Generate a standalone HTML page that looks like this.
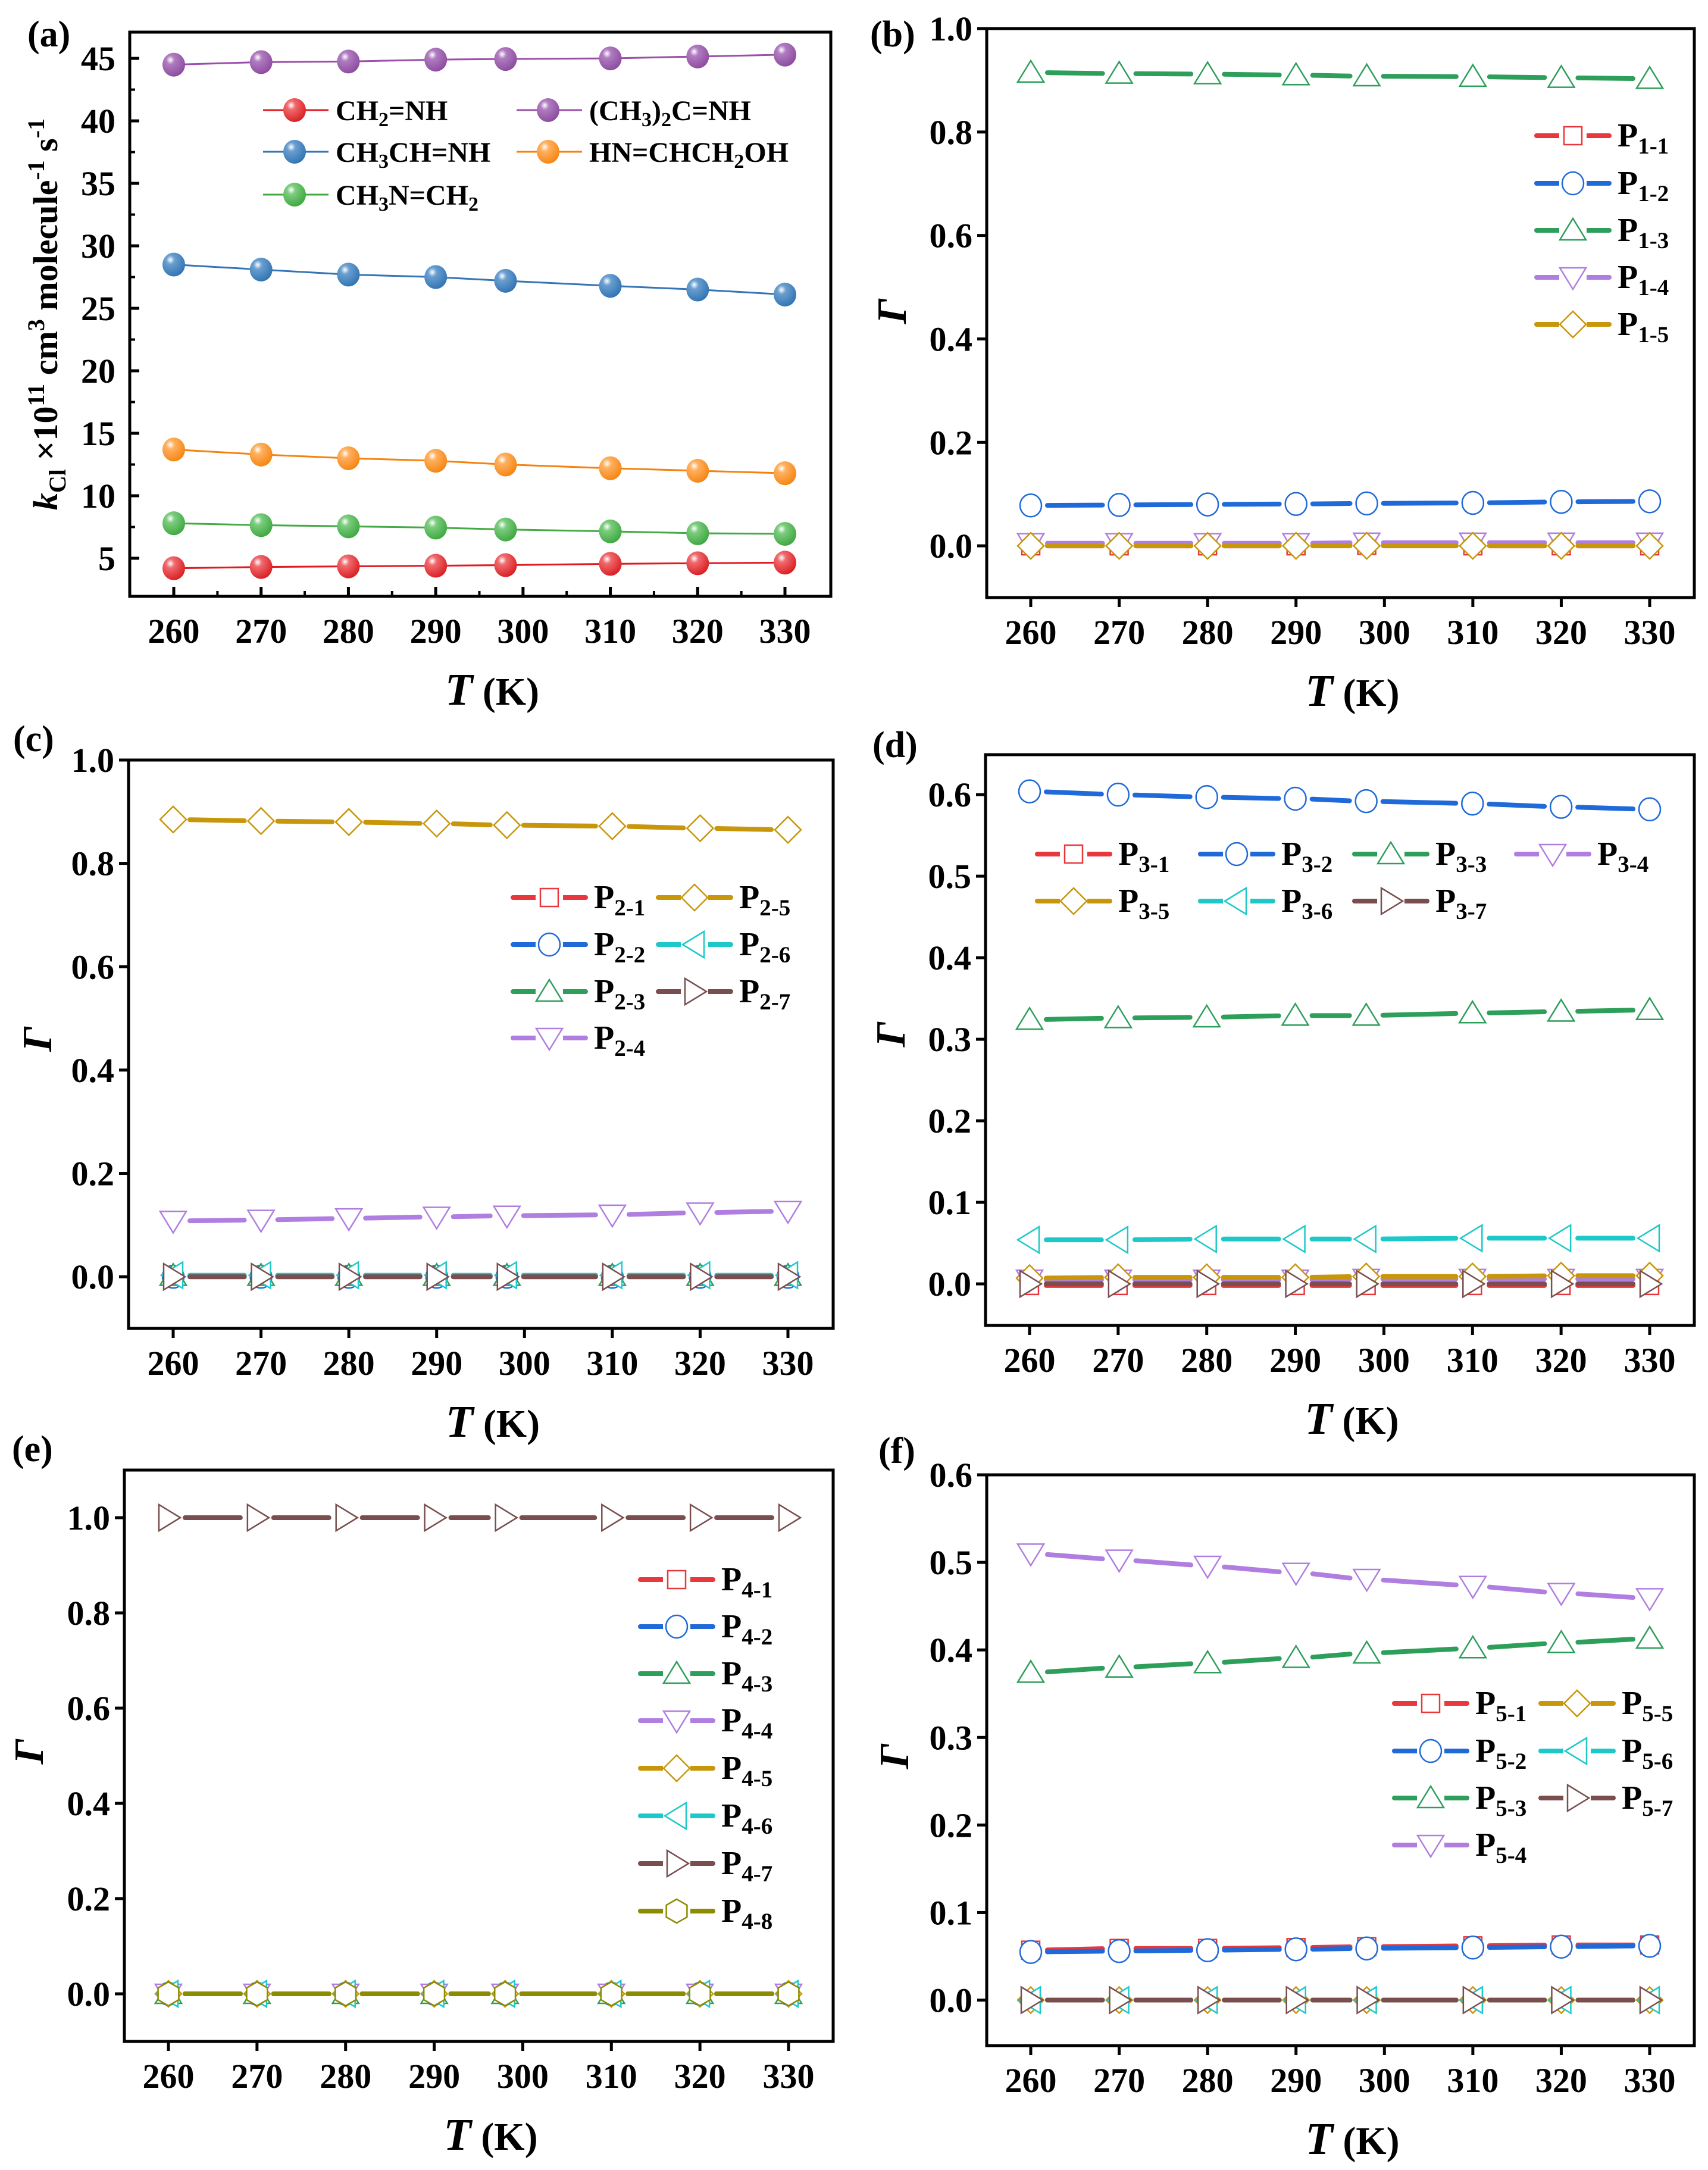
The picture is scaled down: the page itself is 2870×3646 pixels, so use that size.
<!DOCTYPE html>
<html><head><meta charset="utf-8">
<style>
html,body{margin:0;padding:0;background:#fff;}
svg{display:block;}
text{font-family:"Liberation Serif","Times New Roman",serif;font-weight:bold;fill:#000;}
</style></head>
<body>
<svg id="fig" xmlns="http://www.w3.org/2000/svg" width="2870" height="3646" viewBox="0 0 2870 3646">
<defs>
<radialGradient id="gr-red" cx="35%" cy="30%" r="75%"><stop offset="0" stop-color="#fff"/><stop offset="0.25" stop-color="#f06a6e"/><stop offset="1" stop-color="#d81c20"/></radialGradient>
<radialGradient id="gr-purple" cx="35%" cy="30%" r="75%"><stop offset="0" stop-color="#fff"/><stop offset="0.25" stop-color="#b07cc0"/><stop offset="1" stop-color="#8c4a9e"/></radialGradient>
<radialGradient id="gr-blue" cx="35%" cy="30%" r="75%"><stop offset="0" stop-color="#fff"/><stop offset="0.25" stop-color="#6a9fd0"/><stop offset="1" stop-color="#2f72b2"/></radialGradient>
<radialGradient id="gr-orange" cx="35%" cy="30%" r="75%"><stop offset="0" stop-color="#fff"/><stop offset="0.25" stop-color="#ffb060"/><stop offset="1" stop-color="#f58410"/></radialGradient>
<radialGradient id="gr-green" cx="35%" cy="30%" r="75%"><stop offset="0" stop-color="#fff"/><stop offset="0.25" stop-color="#7ccd7e"/><stop offset="1" stop-color="#3da63f"/></radialGradient>
</defs>
</svg>
<script>
// ---------- shared x data ----------
const temps = [260, 270, 280, 290, 298, 310, 320, 330];
const xTicks = [260, 270, 280, 290, 300, 310, 320, 330];

// ---------- panel (a) ----------
const aNames = ["CH2=NH", "(CH3)2C=NH", "CH3CH=NH", "HN=CHCH2OH", "CH3N=CH2"];
const aCH2NH = [4.2, 4.3, 4.35, 4.4, 4.45, 4.55, 4.6, 4.65];
const aMe2CNH = [44.5, 44.7, 44.75, 44.9, 44.95, 45.0, 45.15, 45.3];
const aCH3CHNH = [28.5, 28.1, 27.7, 27.5, 27.2, 26.8, 26.5, 26.1];
const aHNCHCH2OH = [13.7, 13.3, 13.0, 12.8, 12.5, 12.2, 12.0, 11.8];
const aCH3NCH2 = [7.8, 7.65, 7.55, 7.45, 7.3, 7.15, 7.0, 6.95];
const aYTicks = [5, 10, 15, 20, 25, 30, 35, 40, 45];

// ---------- panel (b) ----------
const bP11 = [0, 0, 0, 0, 0.001, 0, 0, 0];
const bP12 = [0.078, 0.079, 0.080, 0.081, 0.082, 0.083, 0.085, 0.086];
const bP13 = [0.915, 0.913, 0.912, 0.910, 0.908, 0.907, 0.905, 0.903];
const bP14 = [0.005, 0.005, 0.005, 0.005, 0.006, 0.006, 0.006, 0.006];
const bP15 = [0, 0, 0, 0, 0, 0, 0, 0];

// ---------- panel (c) ----------
const cP21 = [0, 0, 0, 0, 0, 0, 0, 0];
const cP22 = [0, 0, 0, 0, 0, 0, 0, 0];
const cP23 = [0.002, 0.002, 0.002, 0.002, 0.002, 0.002, 0.002, 0.002];
const cP24 = [0.108, 0.110, 0.113, 0.116, 0.118, 0.120, 0.124, 0.127];
const cP25 = [0.885, 0.882, 0.880, 0.877, 0.874, 0.872, 0.868, 0.865];
const cP26 = [0.003, 0.003, 0.003, 0.003, 0.003, 0.003, 0.003, 0.003];
const cP27 = [0, 0, 0, 0, 0, 0, 0, 0];

// ---------- panel (d) ----------
const dP31 = [-0.002, -0.002, -0.002, -0.002, -0.002, -0.002, -0.002, -0.002];
const dP32 = [0.604, 0.600, 0.597, 0.595, 0.592, 0.589, 0.585, 0.582];
const dP33 = [0.324, 0.326, 0.327, 0.329, 0.329, 0.332, 0.334, 0.336];
const dP34 = [0.005, 0.005, 0.005, 0.005, 0.006, 0.006, 0.006, 0.006];
const dP35 = [0.007, 0.008, 0.008, 0.008, 0.009, 0.009, 0.010, 0.010];
const dP36 = [0.054, 0.054, 0.055, 0.055, 0.055, 0.056, 0.056, 0.056];
const dP37 = [0, 0, 0, 0, 0, 0, 0, 0];

// ---------- panel (e) ----------
const eP41 = [0, 0, 0, 0, 0, 0, 0, 0];
const eP42 = [0, 0, 0, 0, 0, 0, 0, 0];
const eP43 = [0, 0, 0, 0, 0, 0, 0, 0];
const eP44 = [0, 0, 0, 0, 0, 0, 0, 0];
const eP45 = [0, 0, 0, 0, 0, 0, 0, 0];
const eP46 = [0, 0, 0, 0, 0, 0, 0, 0];
const eP47 = [1, 1, 1, 1, 1, 1, 1, 1];
const eP48 = [0, 0, 0, 0, 0, 0, 0, 0];

// ---------- panel (f) ----------
const fP51 = [0.057, 0.059, 0.059, 0.060, 0.061, 0.062, 0.063, 0.063];
const fP52 = [0.055, 0.056, 0.057, 0.058, 0.059, 0.060, 0.061, 0.062];
const fP53 = [0.374, 0.380, 0.385, 0.391, 0.396, 0.402, 0.408, 0.413];
const fP54 = [0.510, 0.503, 0.496, 0.488, 0.481, 0.473, 0.465, 0.459];
const fP55 = [0, 0, 0, 0, 0, 0, 0, 0];
const fP56 = [0, 0, 0, 0, 0, 0, 0, 0];
const fP57 = [0, 0, 0, 0, 0, 0, 0, 0];

const gTicks10 = [0.0, 0.2, 0.4, 0.6, 0.8, 1.0];
const gTicks06 = [0.0, 0.1, 0.2, 0.3, 0.4, 0.5, 0.6];

const NS = "http://www.w3.org/2000/svg";
const svg = document.getElementById("fig");
function mk(tag, attrs, parent) {
  const e = document.createElementNS(NS, tag);
  for (const k in attrs) e.setAttribute(k, attrs[k]);
  (parent || svg).appendChild(e);
  return e;
}
const COL = {red:"#e8383d", blue:"#1f6ad8", green:"#2e9e5b", purple:"#b07ee0", gold:"#c8960a", cyan:"#1ec8c8", brown:"#7a4e4e", olive:"#8c8c00"};

function markerShape(g, shape, cx, cy, color) {
  const s = 20;
  let e;
  if (shape === "square") e = mk("rect", {x:cx-15, y:cy-15, width:30, height:30}, g);
  else if (shape === "circle") e = mk("ellipse", {cx:cx, cy:cy, rx:18, ry:19}, g);
  else {
    let pts;
    if (shape === "up") pts = [[0,-s],[s+2,s*0.8],[-s-2,s*0.8]];
    else if (shape === "down") pts = [[0,s],[s+2,-s*0.8],[-s-2,-s*0.8]];
    else if (shape === "diamond") pts = [[0,-s-2],[s+2,0],[0,s+2],[-s-2,0]];
    else if (shape === "left") pts = [[-s,0],[s*0.8,-s-2],[s*0.8,s+2]];
    else if (shape === "right") pts = [[s,0],[-s*0.8,-s-2],[-s*0.8,s+2]];
    else if (shape === "hex") pts = [[0,-s],[s*0.87,-s/2],[s*0.87,s/2],[0,s],[-s*0.87,s/2],[-s*0.87,-s/2]];
    e = mk("polygon", {points: pts.map(p => (cx+p[0])+","+(cy+p[1])).join(" ")}, g);
  }
  e.setAttribute("fill", "#fff");
  e.setAttribute("stroke", color);
  e.setAttribute("stroke-width", "2.5");
  return e;
}

function subText(g, x, y, main, sub, size, anchor) {
  const t = mk("text", {x:x, y:y, "font-size":size}, g);
  if (anchor) t.setAttribute("text-anchor", anchor);
  t.textContent = main;
  const ts = mk("tspan", {"font-size":Math.round(size*0.7), dy:Math.round(size*0.22)}, t);
  ts.textContent = sub;
  return t;
}

function drawAxes(p) {
  const g = mk("g", {});
  
  
  const sx = v => p.x0 + (v - 260) * (p.x1 - p.x0) / 70;
  const sy = v => p.yB + (v - p.ymin) * (p.yT - p.yB) / (p.ymax - p.ymin);
  const frame = mk("rect", {x:p.L, y:p.T, width:p.R-p.L, height:p.B-p.T, fill:"none", stroke:"#000", "stroke-width":5}, g);
  
  
  const dir = p.inside ? -1 : 1;
  xTicks.forEach(v => {
    mk("line", {x1:sx(v), x2:sx(v), y1:p.B, y2:p.B + dir*16, stroke:"#000", "stroke-width":5}, g);
    const t = mk("text", {x:sx(v), y:p.B + 78, "font-size":58, "text-anchor":"middle"}, g);
    
    
    t.textContent = v;
  });
  if (p.inside) {
    [265,275,285,295,305,315,325].forEach(v => mk("line", {x1:sx(v), x2:sx(v), y1:p.B, y2:p.B-9, stroke:"#000", "stroke-width":4}, g));
  }
  p.yTicks.forEach(v => {
    mk("line", {x1:p.L, x2:p.L - dir*16, y1:sy(v), y2:sy(v), stroke:"#000", "stroke-width":5}, g);
    const t = mk("text", {x:p.L - 24, y:sy(v) + 20, "font-size":58, "text-anchor":"end"}, g);
    
    
    t.textContent = p.yFmt(v);
  });
  if (p.minorY) p.minorY.forEach(v => mk("line", {x1:p.L, x2:p.L+9, y1:sy(v), y2:sy(v), stroke:"#000", "stroke-width":4}, g));
  // x title
  const xt = mk("text", {x:(p.L+p.R)/2 + 20, y:p.B + 182, "font-size":76, "text-anchor":"middle"}, g);
  
  
  const ti = mk("tspan", {"font-style":"italic"}, xt); ti.textContent = "T";
  const tk = mk("tspan", {"font-size":66}, xt); tk.textContent = " (K)";
  // panel label
  const pl = mk("text", {x:p.labX, y:p.labY, "font-size":62}, g);
  
  
  pl.textContent = p.label;
  return {sx, sy};
}

function gammaTitle(x, y) {
  const t = mk("text", {x:x, y:y, "font-size":70, "font-style":"italic", "text-anchor":"middle", transform:"rotate(-90 "+x+" "+y+")"});
  
  
  t.textContent = "Γ";
}

function gammaPanel(p, series) {
  const ax = drawAxes(p);
  gammaTitle(p.gx, p.gy);
  series.forEach(s => {
    const g = mk("g", {});
    
    
    for (let i = 0; i < temps.length - 1; i++) {
      const xa = ax.sx(temps[i]) + 28, xb = ax.sx(temps[i+1]) - 28;
      const ln = mk("line", {x1:xa, y1:ax.sy(s.vals[i]) + (ax.sy(s.vals[i+1])-ax.sy(s.vals[i]))*0.15, x2:xb, y2:ax.sy(s.vals[i+1]) - (ax.sy(s.vals[i+1])-ax.sy(s.vals[i]))*0.15, stroke:s.color, "stroke-width":8, "stroke-linecap":"round"}, g);
      
      
    }
    temps.forEach((t, i) => {
      const m = markerShape(g, s.shape, ax.sx(t), ax.sy(s.vals[i]), s.color);
      
      
    });
  });
  // legend
  series.forEach((s, i) => {
    const pos = p.legend[i];
    const g = mk("g", {});
    
    
    mk("line", {x1:pos[0], x2:pos[0]+122, y1:pos[1], y2:pos[1], stroke:s.color, "stroke-width":8, "stroke-linecap":"round"}, g);
    mk("rect", {x:pos[0]+38, y:pos[1]-26, width:46, height:52, fill:"#fff"}, g);
    markerShape(g, s.shape, pos[0]+61, pos[1], s.color);
    subText(g, pos[0]+136, pos[1]+18, "P", s.sub, 56);
  });
}

// ---------- Panel (a) ----------
(function(){
  const p = {id:"panel-a", L:218, R:1396, T:54, B:1002, x0:292, x1:1319, yB:1002, yT:54, ymin:1.95, ymax:47.1,
    yTicks:aYTicks, minorY:[7.5,12.5,17.5,22.5,27.5,32.5,37.5,42.5], yFmt:v=>String(v), inside:true, label:"(a)", labX:46, labY:78};
  const ax = drawAxes(p);
  // y title
  const yt = mk("text", {x:0, y:0, "font-size":58, "text-anchor":"middle", transform:"translate(96 528) rotate(-90)"});
  
  
  const k = mk("tspan", {"font-style":"italic"}, yt); k.textContent = "k";
  const kc = mk("tspan", {"font-size":40, dy:14}, yt); kc.textContent = "Cl";
  const r1 = mk("tspan", {dy:-14}, yt); r1.textContent = " ×10";
  const r2 = mk("tspan", {"font-size":40, dy:-22}, yt); r2.textContent = "11";
  const r3 = mk("tspan", {dy:22}, yt); r3.textContent = " cm";
  const r4 = mk("tspan", {"font-size":40, dy:-22}, yt); r4.textContent = "3";
  const r5 = mk("tspan", {dy:22}, yt); r5.textContent = " molecule";
  const r6 = mk("tspan", {"font-size":40, dy:-22}, yt); r6.textContent = "-1";
  const r7 = mk("tspan", {dy:22}, yt); r7.textContent = " s";
  const r8 = mk("tspan", {"font-size":40, dy:-22}, yt); r8.textContent = "-1";

  const series = [
    {vals:aMe2CNH, color:"#9b4fa8", grad:"gr-purple", name:"me2c-nh"},
    {vals:aCH3CHNH, color:"#3575b5", grad:"gr-blue", name:"ch3ch-nh"},
    {vals:aHNCHCH2OH, color:"#f5820f", grad:"gr-orange", name:"hn-chch2oh"},
    {vals:aCH3NCH2, color:"#44aa44", grad:"gr-green", name:"ch3n-ch2"},
    {vals:aCH2NH, color:"#e01b22", grad:"gr-red", name:"ch2-nh"}
  ];
  series.forEach(s => {
    const g = mk("g", {});
    
    
    const d = temps.map((t,i) => (i?"L":"M") + ax.sx(t) + " " + ax.sy(s.vals[i])).join(" ");
    mk("path", {d:d, fill:"none", stroke:s.color, "stroke-width":3}, g);
    temps.forEach((t,i) => {
      const c = mk("ellipse", {cx:ax.sx(t), cy:ax.sy(s.vals[i]), rx:19, ry:20, fill:"url(#"+s.grad+")"}, g);
      
      
    });
  });
  const leg = [
    {x:442, y:185, color:"#e01b22", grad:"gr-red", parts:[["CH",""],["2","s"],["=NH",""]]},
    {x:868, y:185, color:"#9b4fa8", grad:"gr-purple", parts:[["(CH",""],["3","s"],[")",""],["2","s"],["C=NH",""]]},
    {x:442, y:255, color:"#3575b5", grad:"gr-blue", parts:[["CH",""],["3","s"],["CH=NH",""]]},
    {x:868, y:255, color:"#f5820f", grad:"gr-orange", parts:[["HN=CHCH",""],["2","s"],["OH",""]]},
    {x:442, y:327, color:"#44aa44", grad:"gr-green", parts:[["CH",""],["3","s"],["N=CH",""],["2","s"]]}
  ];
  leg.forEach(l => {
    const g = mk("g", {});
    
    
    mk("line", {x1:l.x, x2:l.x+110, y1:l.y, y2:l.y, stroke:l.color, "stroke-width":3}, g);
    mk("ellipse", {cx:l.x+53, cy:l.y, rx:19, ry:20, fill:"url(#"+l.grad+")"}, g);
    const t = mk("text", {x:l.x+122, y:l.y+17, "font-size":48}, g);
    let sub = false;
    l.parts.forEach(pt => {
      const ts = mk("tspan", {}, t);
      if (pt[1] === "s") { ts.setAttribute("font-size", 34); ts.setAttribute("dy", 10); sub = true; }
      else if (sub) { ts.setAttribute("dy", -10); sub = false; }
      ts.textContent = pt[0];
    });
  });
})();

// ---------- Panel (b) ----------
gammaPanel({id:"panel-b", L:1658, R:2847, T:48, B:1004, x0:1732, x1:2772, yB:1004, yT:48, ymin:-0.1, ymax:1.0,
  yTicks:gTicks10, yFmt:v=>v.toFixed(1), label:"(b)", labX:1462, labY:78, gx:1522, gy:523,
  legend:[[2582,228],[2582,308],[2582,387],[2582,466],[2582,545]]},
  [{name:"P1-1", sub:"1-1", vals:bP11, color:COL.red, shape:"square"},
   {name:"P1-2", sub:"1-2", vals:bP12, color:COL.blue, shape:"circle"},
   {name:"P1-3", sub:"1-3", vals:bP13, color:COL.green, shape:"up"},
   {name:"P1-4", sub:"1-4", vals:bP14, color:COL.purple, shape:"down"},
   {name:"P1-5", sub:"1-5", vals:bP15, color:COL.gold, shape:"diamond"}]);

// ---------- Panel (c) ----------
gammaPanel({id:"panel-c", L:216, R:1400, T:1277, B:2232, x0:291, x1:1324, yB:2232, yT:1277, ymin:-0.1, ymax:1.0,
  yTicks:gTicks10, yFmt:v=>v.toFixed(1), label:"(c)", labX:22, labY:1262, gx:86, gy:1746,
  legend:[[862,1508],[862,1587],[862,1666],[862,1744],[1106,1508],[1106,1587],[1106,1666]]},
  [{name:"P2-1", sub:"2-1", vals:cP21, color:COL.red, shape:"square"},
   {name:"P2-2", sub:"2-2", vals:cP22, color:COL.blue, shape:"circle"},
   {name:"P2-3", sub:"2-3", vals:cP23, color:COL.green, shape:"up"},
   {name:"P2-4", sub:"2-4", vals:cP24, color:COL.purple, shape:"down"},
   {name:"P2-5", sub:"2-5", vals:cP25, color:COL.gold, shape:"diamond"},
   {name:"P2-6", sub:"2-6", vals:cP26, color:COL.cyan, shape:"left"},
   {name:"P2-7", sub:"2-7", vals:cP27, color:COL.brown, shape:"right"}]);

// ---------- Panel (d) ----------
gammaPanel({id:"panel-d", L:1656, R:2847, T:1268, B:2227, x0:1730, x1:2772, yB:2227, yT:1268, ymin:-0.051, ymax:0.649,
  yTicks:gTicks06, yFmt:v=>v.toFixed(1), label:"(d)", labX:1466, labY:1272, gx:1520, gy:1738,
  legend:[[1743,1435],[2017,1435],[2276,1435],[2548,1435],[1743,1514],[2017,1514],[2276,1514]]},
  [{name:"P3-1", sub:"3-1", vals:dP31, color:COL.red, shape:"square"},
   {name:"P3-2", sub:"3-2", vals:dP32, color:COL.blue, shape:"circle"},
   {name:"P3-3", sub:"3-3", vals:dP33, color:COL.green, shape:"up"},
   {name:"P3-4", sub:"3-4", vals:dP34, color:COL.purple, shape:"down"},
   {name:"P3-5", sub:"3-5", vals:dP35, color:COL.gold, shape:"diamond"},
   {name:"P3-6", sub:"3-6", vals:dP36, color:COL.cyan, shape:"left"},
   {name:"P3-7", sub:"3-7", vals:dP37, color:COL.brown, shape:"right"}]);

// ---------- Panel (e) ----------
gammaPanel({id:"panel-e", L:209, R:1400, T:2470, B:3430, x0:283, x1:1325, yB:3430, yT:2470, ymin:-0.1, ymax:1.1,
  yTicks:gTicks10, yFmt:v=>v.toFixed(1), label:"(e)", labX:20, labY:2455, gx:72, gy:2943,
  legend:[[1076,2654],[1076,2733],[1076,2812],[1076,2891],[1076,2971],[1076,3051],[1076,3131],[1076,3211]]},
  [{name:"P4-1", sub:"4-1", vals:eP41, color:COL.red, shape:"square"},
   {name:"P4-2", sub:"4-2", vals:eP42, color:COL.blue, shape:"circle"},
   {name:"P4-3", sub:"4-3", vals:eP43, color:COL.green, shape:"up"},
   {name:"P4-4", sub:"4-4", vals:eP44, color:COL.purple, shape:"down"},
   {name:"P4-5", sub:"4-5", vals:eP45, color:COL.gold, shape:"diamond"},
   {name:"P4-6", sub:"4-6", vals:eP46, color:COL.cyan, shape:"left"},
   {name:"P4-7", sub:"4-7", vals:eP47, color:COL.brown, shape:"right"},
   {name:"P4-8", sub:"4-8", vals:eP48, color:COL.olive, shape:"hex"}]);

// ---------- Panel (f) ----------
gammaPanel({id:"panel-f", L:1658, R:2847, T:2478, B:3437, x0:1732, x1:2772, yB:3437, yT:2478, ymin:-0.052, ymax:0.6,
  yTicks:gTicks06, yFmt:v=>v.toFixed(1), label:"(f)", labX:1476, labY:2458, gx:1526, gy:2951,
  legend:[[2343,2862],[2343,2942],[2343,3021],[2343,3100],[2589,2862],[2589,2942],[2589,3021]]},
  [{name:"P5-1", sub:"5-1", vals:fP51, color:COL.red, shape:"square"},
   {name:"P5-2", sub:"5-2", vals:fP52, color:COL.blue, shape:"circle"},
   {name:"P5-3", sub:"5-3", vals:fP53, color:COL.green, shape:"up"},
   {name:"P5-4", sub:"5-4", vals:fP54, color:COL.purple, shape:"down"},
   {name:"P5-5", sub:"5-5", vals:fP55, color:COL.gold, shape:"diamond"},
   {name:"P5-6", sub:"5-6", vals:fP56, color:COL.cyan, shape:"left"},
   {name:"P5-7", sub:"5-7", vals:fP57, color:COL.brown, shape:"right"}]);
</script>
</body></html>
